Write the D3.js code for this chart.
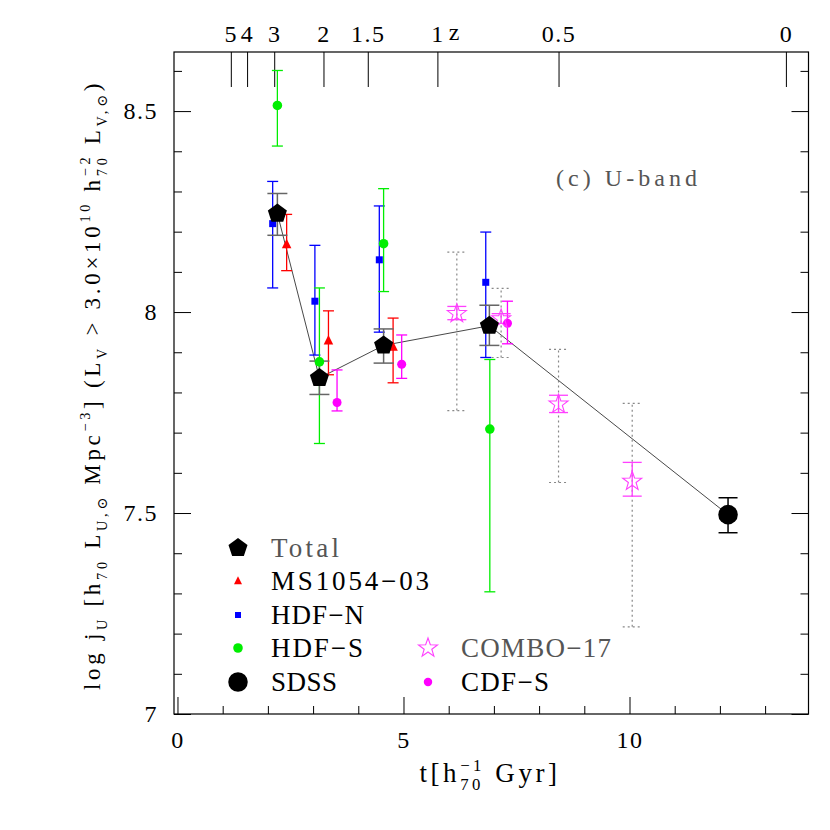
<!DOCTYPE html>
<html><head><meta charset="utf-8">
<script src="https://cdn.jsdelivr.net/npm/d3@7"></script>
<style>body{margin:0;background:#fff}svg{display:block}text{white-space:pre;font-family:'Liberation Serif','DejaVu Serif',serif}</style>
</head><body><svg id="c" width="830" height="830"></svg>
<script>
// ---------------- data ----------------
const totalT  = [2.21, 3.14, 4.56, 6.90];
const totalY  = [8.245, 7.836, 7.917, 7.966];
const totalLo = [8.191, 7.795, 7.873, 7.917];
const totalHi = [8.295, 7.878, 7.958, 8.017];

const sdssT  = [12.18];
const sdssY  = [7.496];
const sdssLo = [7.451];
const sdssHi = [7.538];

const msT  = [2.415, 3.34, 4.77];
const msY  = [8.168, 7.929, 7.913];
const msLo = [8.103, 7.844, 7.824];
const msHi = [8.243, 8.003, 7.985];

const hdfnT  = [2.106, 3.04, 4.465, 6.82];
const hdfnY  = [8.22, 8.027, 8.13, 8.074];
const hdfnLo = [8.06, 7.893, 7.95, 7.887];
const hdfnHi = [8.325, 8.166, 8.264, 8.199];

const hdfsT  = [2.21, 3.14, 4.56, 6.91];
const hdfsY  = [8.514, 7.876, 8.17, 7.709];
const hdfsLo = [8.413, 7.673, 8.051, 7.304];
const hdfsHi = [8.601, 8.06, 8.307, 7.882];

const cdfsT  = [3.53, 4.96, 7.30];
const cdfsY  = [7.775, 7.87, 7.972];
const cdfsLo = [7.754, 7.835, 7.921];
const cdfsHi = [7.856, 7.943, 8.027];

const comboT     = [6.18, 7.16, 8.43, 10.06];
const comboY     = [7.996, 7.983, 7.771, 7.579];
const comboLo    = [7.981, 7.972, 7.750, 7.542];
const comboHi    = [8.014, 7.996, 7.793, 7.626];
const comboSysLo = [7.755, 7.887, 7.576, 7.217];
const comboSysHi = [8.149, 8.059, 7.907, 7.773];

const zLabels = ["5", "4", "3", "2", "1.5", "1", "0.5", "0"];
const zTimes  = [1.18, 1.54, 2.14, 3.23, 4.21, 5.75, 8.43, 13.46];
const xMajor  = [0, 5, 10];
const xLabels = ["0", "5", "10"];
const yMajor  = [7, 7.5, 8, 8.5];
const yLabels = ["7", "7.5", "8", "8.5"];

const legNames1 = ["Total", "MS1054−03", "HDF−N", "HDF−S", "SDSS"];
const legNames2 = ["COMBO−17", "CDF−S"];

// ---------------- setup ----------------
const svg = d3.select("#c");
const L = 174, R = 808.5, T = 52, B = 714;
const x = d3.scaleLinear().domain([-0.077, 13.96]).range([L, R]);
const y = d3.scaleLinear().domain([7, 8.647]).range([B, T]);

const zip = (t, v, lo, hi) => t.map((d, i) => ({t: d, v: v[i], lo: lo[i], hi: hi[i]}));
const total = zip(totalT, totalY, totalLo, totalHi);
const sdss = zip(sdssT, sdssY, sdssLo, sdssHi);
const ms = zip(msT, msY, msLo, msHi);
const hdfn = zip(hdfnT, hdfnY, hdfnLo, hdfnHi);
const hdfs = zip(hdfsT, hdfsY, hdfsLo, hdfsHi);
const cdfs = zip(cdfsT, cdfsY, cdfsLo, cdfsHi);
const combo = zip(comboT, comboY, comboLo, comboHi);
const comboSys = zip(comboT, comboY, comboSysLo, comboSysHi);

// ---------------- axes ----------------
function styleAxis(g) {
  g.attr("font-family", null);
  g.select(".domain").remove();
  g.selectAll("line").attr("stroke", "#000").attr("stroke-width", 1);
  g.selectAll("text").attr("font-size", 24).attr("fill", "#000").style("letter-spacing", "1.5px");
}
const minorX = d3.range(1, 14).filter(v => v % 5 !== 0);
const minorY = d3.range(71, 87).map(v => v / 10).filter(v => Math.abs(v * 2 - Math.round(v * 2)) > 1e-6);

svg.append("g").attr("transform", `translate(0,${B})`)
  .call(d3.axisBottom(x).tickValues(xMajor).tickFormat((d, i) => xLabels[i]).tickSizeInner(-17).tickSizeOuter(0).tickPadding(17))
  .call(styleAxis);
svg.append("g").attr("transform", `translate(0,${B})`)
  .call(d3.axisBottom(x).tickValues(minorX).tickFormat("").tickSizeInner(-8).tickSizeOuter(0)).call(styleAxis);

svg.append("g").attr("transform", `translate(${L},0)`)
  .call(d3.axisLeft(y).tickValues(yMajor).tickFormat((d, i) => yLabels[i]).tickSizeInner(-17).tickSizeOuter(0).tickPadding(16))
  .call(styleAxis);
svg.append("g").attr("transform", `translate(${L},0)`)
  .call(d3.axisLeft(y).tickValues(minorY).tickFormat("").tickSizeInner(-8).tickSizeOuter(0)).call(styleAxis);
svg.append("g").attr("transform", `translate(${R},0)`)
  .call(d3.axisRight(y).tickValues(yMajor).tickFormat("").tickSizeInner(-17).tickSizeOuter(0)).call(styleAxis);
svg.append("g").attr("transform", `translate(${R},0)`)
  .call(d3.axisRight(y).tickValues(minorY).tickFormat("").tickSizeInner(-8).tickSizeOuter(0)).call(styleAxis);

svg.append("g").attr("transform", `translate(0,${T})`)
  .call(d3.axisTop(x).tickValues(zTimes).tickFormat((d, i) => zLabels[i]).tickSizeInner(-35).tickSizeOuter(0).tickPadding(10))
  .call(styleAxis);

svg.append("rect").attr("x", L).attr("y", T).attr("width", R - L).attr("height", B - T)
  .attr("fill", "none").attr("stroke", "#000").attr("stroke-width", 1.2);

svg.append("text").attr("x", 454).attr("y", 40).attr("text-anchor", "middle")
  .attr("font-size", 24).text("z");

// ---------------- rich labels ----------------
function rich(g, segs, fs, ls) {
  let cx = 0;
  const sfs = fs * 0.62;
  const add = (txt, xx, yy, size) => g.append("text").attr("x", xx).attr("y", yy)
    .attr("font-size", size).style("letter-spacing", ls + "px").text(txt);
  segs.forEach(s => {
    if (s[0] === "n") { cx += add(s[1], cx, 0, fs).node().getComputedTextLength(); }
    else if (s[0] === "sub") { cx += add(s[1], cx, fs * 0.3, sfs).node().getComputedTextLength(); }
    else if (s[0] === "sup") { cx += add(s[1], cx, -fs * 0.42, sfs).node().getComputedTextLength(); }
    else {
      const a = add(s[1], cx, -fs * 0.42, sfs).node().getComputedTextLength();
      const b = add(s[2], cx, fs * 0.3, sfs).node().getComputedTextLength();
      cx += Math.max(a, b);
    }
  });
  return cx;
}
function richFit(parent, segs, fs, target) {
  const tmp = parent.append("g");
  const w0 = rich(tmp, segs, fs, 0);
  tmp.remove();
  const n = segs.reduce((a, s) => a + s.slice(1).reduce((b, q) => Math.max(b, q.length), 0), 0);
  const ls = Math.max(0, (target - w0) / n);
  const g = parent.append("g");
  const w = rich(g, segs, fs, ls);
  g.attr("transform", `translate(${-w / 2},0)`);
  return g;
}

const yTitle = svg.append("g").attr("transform", "translate(100,385) rotate(-90)");
richFit(yTitle, [["n", "log j"], ["sub", "U"], ["n", " [h"], ["sub", "70"], ["n", " L"], ["sub", "U,⊙"], ["n", " Mpc"], ["sup", "−3"],
  ["n", "] (L"], ["sub", "V"], ["n", " > 3.0×10"], ["sup", "10"], ["n", " h"], ["stack", "−2", "70"], ["n", " L"], ["sub", "V,⊙"], ["n", ")"]], 23, 610);

const xTitle = svg.append("g").attr("transform", "translate(490,782)");
richFit(xTitle, [["n", "t[h"], ["stack", "−1", "70"], ["n", " Gyr]"]], 27, 141);

svg.append("text").attr("x", 556).attr("y", 186).attr("font-size", 24)
  .attr("fill", "#555").attr("textLength", 141).attr("lengthAdjust", "spacing").text("(c) U-band");

// ---------------- symbols ----------------
const pentagon = {draw(ctx, size) {
  const r = Math.sqrt(size);
  for (let i = 0; i < 5; i++) {
    const a = -Math.PI / 2 + i * 2 * Math.PI / 5;
    i ? ctx.lineTo(r * Math.cos(a), r * Math.sin(a)) : ctx.moveTo(r * Math.cos(a), r * Math.sin(a));
  }
  ctx.closePath();
}};
const star5 = {draw(ctx, size) {
  const r = Math.sqrt(size), ri = r * 0.4;
  for (let i = 0; i < 10; i++) {
    const a = -Math.PI / 2 + i * Math.PI / 5, rr = i % 2 ? ri : r;
    i ? ctx.lineTo(rr * Math.cos(a), rr * Math.sin(a)) : ctx.moveTo(rr * Math.cos(a), rr * Math.sin(a));
  }
  ctx.closePath();
}};
const tri = {draw(ctx, size) {
  const s = Math.sqrt(size);
  ctx.moveTo(0, -s * 0.6); ctx.lineTo(s * 0.5, s * 0.4); ctx.lineTo(-s * 0.5, s * 0.4); ctx.closePath();
}};

// ---------------- plot ----------------
const plot = svg.append("g");

plot.append("path").datum(total.concat(sdss))
  .attr("d", d3.line().x(d => x(d.t)).y(d => y(d.v)))
  .attr("fill", "none").attr("stroke", "#333").attr("stroke-width", 0.9);

function errBars(data, color, capW, sw, dash) {
  const g = plot.append("g").attr("stroke", color).attr("stroke-width", sw).attr("fill", "none");
  if (dash) g.attr("stroke-dasharray", dash);
  data.forEach(d => {
    const X = x(d.t);
    g.append("line").attr("x1", X).attr("x2", X).attr("y1", y(d.lo)).attr("y2", y(d.hi));
    [d.lo, d.hi].forEach(v => g.append("line").attr("x1", X - capW / 2).attr("x2", X + capW / 2).attr("y1", y(v)).attr("y2", y(v)));
  });
}
errBars(comboSys, "#888", 19, 1.2, "2,3");
errBars(hdfn, "#0000ff", 11, 1.3);
errBars(hdfs, "#00ee00", 11, 1.3);
errBars(ms, "#ff0000", 11, 1.3);
errBars(cdfs, "#ff00ff", 11, 1.3);
errBars(combo, "#ff40ff", 19, 1.3);
errBars(total, "#666", 20, 1.5);
errBars(sdss, "#000", 19, 1.5);

function markers(data, type, size, fill, stroke, sw) {
  plot.append("g").selectAll("path").data(data).join("path")
    .attr("transform", d => `translate(${x(d.t)},${y(d.v)})`)
    .attr("d", d3.symbol().type(type).size(size))
    .attr("fill", fill).attr("stroke", stroke || "none").attr("stroke-width", sw || 0);
}
markers(hdfn, d3.symbolSquare, 49, "#0000ff");
markers(hdfs, d3.symbolCircle, 72, "#00ee00");
markers(ms, tri, 90, "#ff0000");
markers(cdfs, d3.symbolCircle, 64, "#ff00ff");
markers(combo, star5, 100, "none", "#ff40ff", 1.1);
markers(total, pentagon, 100, "#000");
markers(sdss, d3.symbolCircle, 300, "#000");

// ---------------- legend ----------------
const legW1 = [68, 158, 93, 92, 66];
const legW2 = [150, 88];
const leg1 = [
  {type: pentagon, size: 100, fill: "#000", col: "#555"},
  {type: tri, size: 64, fill: "#ff0000", col: "#000"},
  {type: d3.symbolSquare, size: 36, fill: "#0000ff", col: "#000"},
  {type: d3.symbolCircle, size: 72, fill: "#00ee00", col: "#000"},
  {type: d3.symbolCircle, size: 300, fill: "#000", col: "#000"}
];
const leg2 = [
  {type: star5, size: 100, fill: "none", stroke: "#ff40ff", col: "#555"},
  {type: d3.symbolCircle, size: 56, fill: "#ff00ff", col: "#000"}
];
const rowY = [548, 581, 615, 648, 682];
const lg = svg.append("g");
leg1.forEach((e, i) => {
  lg.append("path").attr("transform", `translate(238,${rowY[i]})`).attr("d", d3.symbol().type(e.type).size(e.size)).attr("fill", e.fill);
  lg.append("text").attr("x", 271).attr("y", rowY[i] + 9).attr("font-size", 27)
    .attr("fill", e.col).attr("textLength", legW1[i]).attr("lengthAdjust", "spacing").text(legNames1[i]);
});
leg2.forEach((e, i) => {
  lg.append("path").attr("transform", `translate(428,${rowY[i + 3]})`).attr("d", d3.symbol().type(e.type).size(e.size))
    .attr("fill", e.fill).attr("stroke", e.stroke || "none").attr("stroke-width", 1.1);
  lg.append("text").attr("x", 461).attr("y", rowY[i + 3] + 9).attr("font-size", 27)
    .attr("fill", e.col).attr("textLength", legW2[i]).attr("lengthAdjust", "spacing").text(legNames2[i]);
});
</script></body></html>
